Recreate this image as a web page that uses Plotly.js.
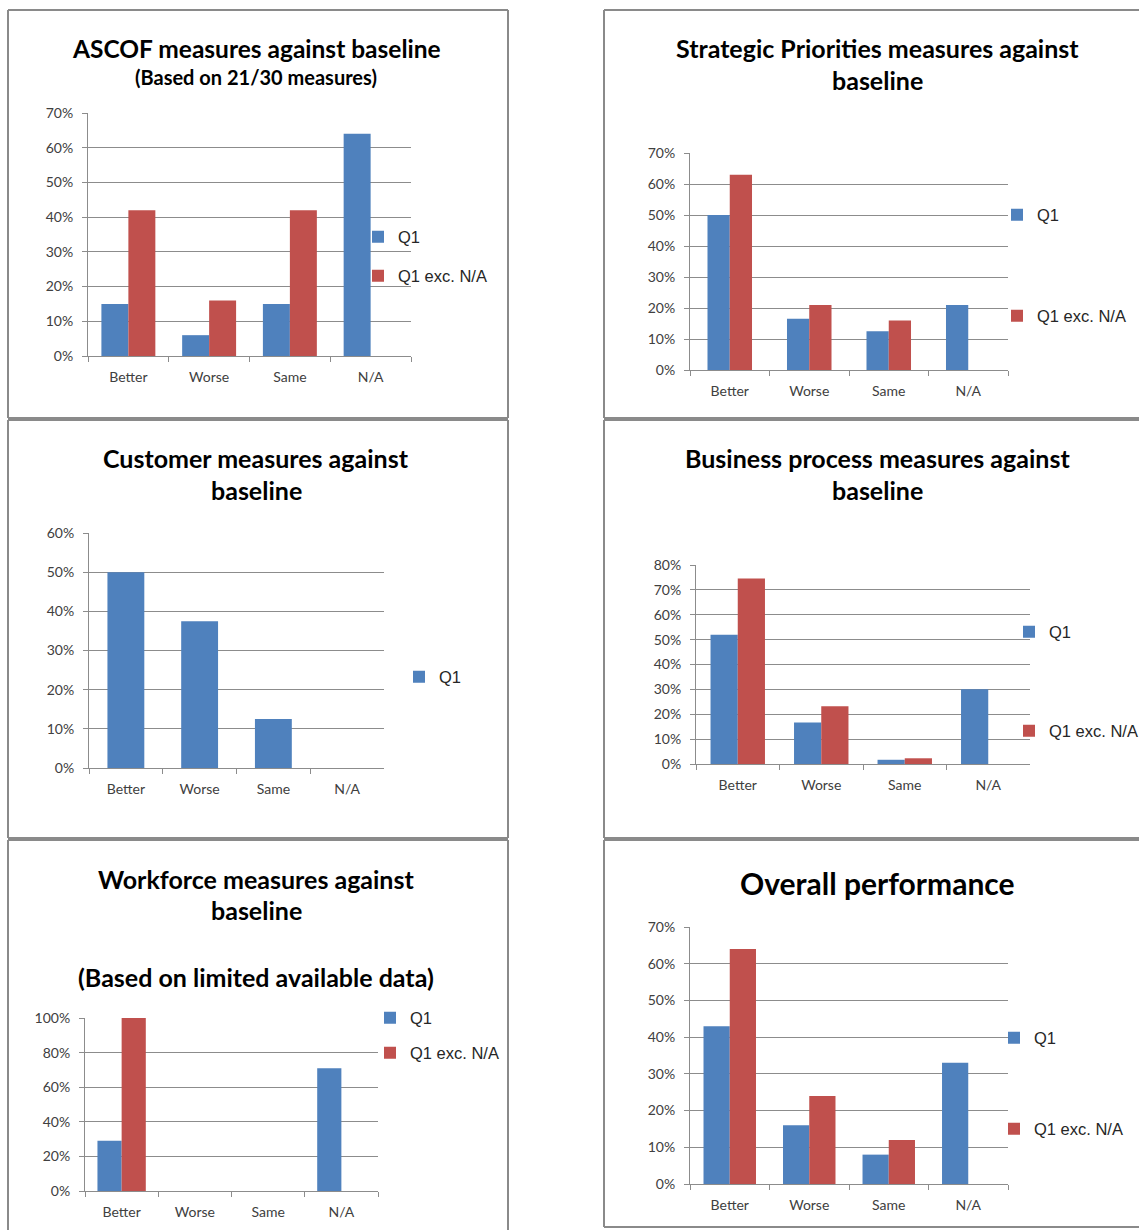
<!DOCTYPE html>
<html>
<head>
<meta charset="utf-8">
<script src="https://cdn.plot.ly/plotly-3.0.1.min.js"></script>
<style>html,body{margin:0;padding:0;background:#fff;overflow:hidden;} #chart{width:1139px;height:1230px;}</style>
</head>
<body>
<div id="chart"></div>
<script>
// ---- data ----
const categories = ['Better', 'Worse', 'Same', 'N/A'];
const seriesNames = ['Q1', 'Q1 exc. N/A'];

const ascofQ1 = [15, 6, 15, 64];
const ascofExc = [42, 16, 42, null];

const strategicQ1 = [50, 16.5, 12.5, 21];
const strategicExc = [63, 21, 16, null];

const customerQ1 = [50, 37.5, 12.5, 0];

const businessQ1 = [52, 16.7, 1.7, 30];
const businessExc = [74.6, 23.2, 2.3, null];

const workforceQ1 = [29, 0, 0, 71];
const workforceExc = [100, 0, 0, null];

const overallQ1 = [43, 16, 8, 33];
const overallExc = [64, 24, 12, null];

const titles = {
  ascof: ['ASCOF measures against baseline', '(Based on 21/30 measures)'],
  strategic: ['Strategic Priorities measures against', 'baseline'],
  customer: ['Customer measures against', 'baseline'],
  business: ['Business process measures against', 'baseline'],
  workforce: ['Workforce measures against', 'baseline', '(Based on limited available data)'],
  overall: ['Overall performance']
};

// ---- layout helpers ----
const W = 1139, H = 1230;
const fx = x => x / W;
const fy = y => 1 - y / H;

const BLUE = '#4F81BD', RED = '#C0504D';
const GRID = '#8c8c8c';
const TICKFONT = {family: 'Lato, "Liberation Sans", sans-serif', size: 14, color: '#404040'};
const TITLEFONT = 'Lato, "Liberation Sans", sans-serif';
const LEGFONT = {family: '"Liberation Sans", Arial, sans-serif', size: 16.5, color: '#262626'};

const panels = [
  {key: 'ascof', q1: ascofQ1, exc: ascofExc, box: [88, 113, 411, 356], ymax: 70, dtick: 10, bw: 0.334,
   border: [8, 10, 508, 418], sides: 'ltrb', tcx: 256, ty: [48, 77], tsize: [24.5, 20],
   leg: [[398, 237], [398, 276]]},
  {key: 'strategic', q1: strategicQ1, exc: strategicExc, box: [690, 153, 1008, 370], ymax: 70, dtick: 10, bw: 0.28,
   border: [604, 10, 1139, 418], sides: 'ltb', tcx: 877, ty: [48, 80], tsize: [25, 25],
   leg: [[1037, 215], [1037, 316]]},
  {key: 'customer', q1: customerQ1, exc: null, box: [89, 533, 384, 768], ymax: 60, dtick: 10, bw: 0.5,
   border: [8, 420, 508, 838], sides: 'ltrb', tcx: 256, ty: [458, 490], tsize: [25, 25],
   leg: [[439, 677]]},
  {key: 'business', q1: businessQ1, exc: businessExc, box: [696, 565, 1030, 764], ymax: 80, dtick: 10, bw: 0.326,
   border: [604, 420, 1139, 838], sides: 'ltb', tcx: 877, ty: [458, 490], tsize: [25, 25],
   leg: [[1049, 632], [1049, 731]]},
  {key: 'workforce', q1: workforceQ1, exc: workforceExc, box: [85, 1018, 378, 1191], ymax: 100, dtick: 20, bw: 0.33,
   border: [8, 840, 508, 1230], sides: 'ltr', tcx: 256, ty: [879, 910, 977], tsize: [25, 25, 25],
   leg: [[410, 1018], [410, 1053]]},
  {key: 'overall', q1: overallQ1, exc: overallExc, box: [690, 927, 1008, 1184], ymax: 70, dtick: 10, bw: 0.33,
   border: [604, 840, 1139, 1227], sides: 'ltb', tcx: 877, ty: [883], tsize: [30],
   leg: [[1034, 1038], [1034, 1129]]}
];

const data = [];
const layout = {
  width: W, height: H,
  margin: {l: 0, r: 0, t: 0, b: 0, pad: 0, autoexpand: false},
  paper_bgcolor: '#fff', plot_bgcolor: '#fff',
  showlegend: true,
  barmode: 'group',
  annotations: [],
  shapes: []
};

let legIdx = 1;
panels.forEach((p, i) => {
  const n = i + 1;
  const xa = n === 1 ? 'x' : 'x' + n;
  const ya = n === 1 ? 'y' : 'y' + n;
  const xkey = n === 1 ? 'xaxis' : 'xaxis' + n;
  const ykey = n === 1 ? 'yaxis' : 'yaxis' + n;
  const [x0, y0, x1, y1] = p.box;
  layout[xkey] = {
    domain: [fx(x0), fx(x1)], anchor: ya, type: 'category',
    range: [-0.5, 3.5], showline: true, linecolor: GRID, linewidth: 1,
    ticks: 'outside', tickson: 'boundaries', ticklen: 5, tickcolor: GRID,
    showgrid: false, zeroline: false, tickfont: TICKFONT, fixedrange: true,
    ticklabelstandoff: 8, automargin: false
  };
  layout[ykey] = {
    domain: [fy(y1), fy(y0)], anchor: xa, range: [0, p.ymax], dtick: p.dtick, tick0: 0,
    ticksuffix: '%', showline: true, linecolor: GRID, linewidth: 1,
    ticks: 'outside', ticklen: 5, tickcolor: GRID, showgrid: true, gridcolor: GRID, gridwidth: 1,
    zeroline: false, tickfont: TICKFONT, fixedrange: true, ticklabelstandoff: 6, automargin: false
  };
  const series = [[p.q1, seriesNames[0], BLUE]];
  if (p.exc) series.push([p.exc, seriesNames[1], RED]);
  series.forEach((s, j) => {
    const lk = legIdx === 1 ? 'legend' : 'legend' + legIdx;
    legIdx++;
    const offset = series.length === 1 ? -p.bw / 2 : (j === 0 ? -p.bw : 0);
    data.push({
      type: 'bar', x: categories, y: s[0], name: s[1], xaxis: xa, yaxis: ya,
      marker: {color: s[2], line: {width: 0}}, width: p.bw, offset: offset,
      legend: lk, showlegend: true, hoverinfo: 'skip'
    });
    // leg gives the x where the legend text starts
    const [lx, ly] = p.leg[j];
    layout[lk] = {
      x: fx(lx - 40), y: fy(ly), xanchor: 'left', yanchor: 'middle',
      bgcolor: 'rgba(0,0,0,0)', borderwidth: 0, font: LEGFONT,
      itemclick: false, itemdoubleclick: false
    };
  });
  // titles
  titles[p.key].forEach((t, k) => {
    layout.annotations.push({
      text: '<b>' + t + '</b>', xref: 'paper', yref: 'paper',
      x: fx(p.tcx), y: fy(p.ty[k]), xanchor: 'center', yanchor: 'middle',
      showarrow: false, font: {family: TITLEFONT, size: p.tsize[k], color: '#000'}
    });
  });
  // panel border (open path for panels cut by the picture edge)
  const [bx0, by0, bx1, by1] = p.border;
  const X0 = fx(bx0), X1 = fx(bx1), Yt = fy(by0), Yb = fy(by1);
  const segs = [];
  if (p.sides.includes('l')) segs.push(`M${X0},${Yb} L${X0},${Yt}`);
  if (p.sides.includes('t')) segs.push(`M${X0},${Yt} L${X1},${Yt}`);
  if (p.sides.includes('r')) segs.push(`M${X1},${Yt} L${X1},${Yb}`);
  if (p.sides.includes('b')) segs.push(`M${X0},${Yb} L${X1},${Yb}`);
  layout.shapes.push({
    type: 'path', xref: 'paper', yref: 'paper', path: segs.join(' '),
    line: {color: '#8a8a8a', width: 2}, layer: 'below'
  });
});

Plotly.newPlot('chart', data, layout, {staticPlot: true, displayModeBar: false});
</script>
</body>
</html>
